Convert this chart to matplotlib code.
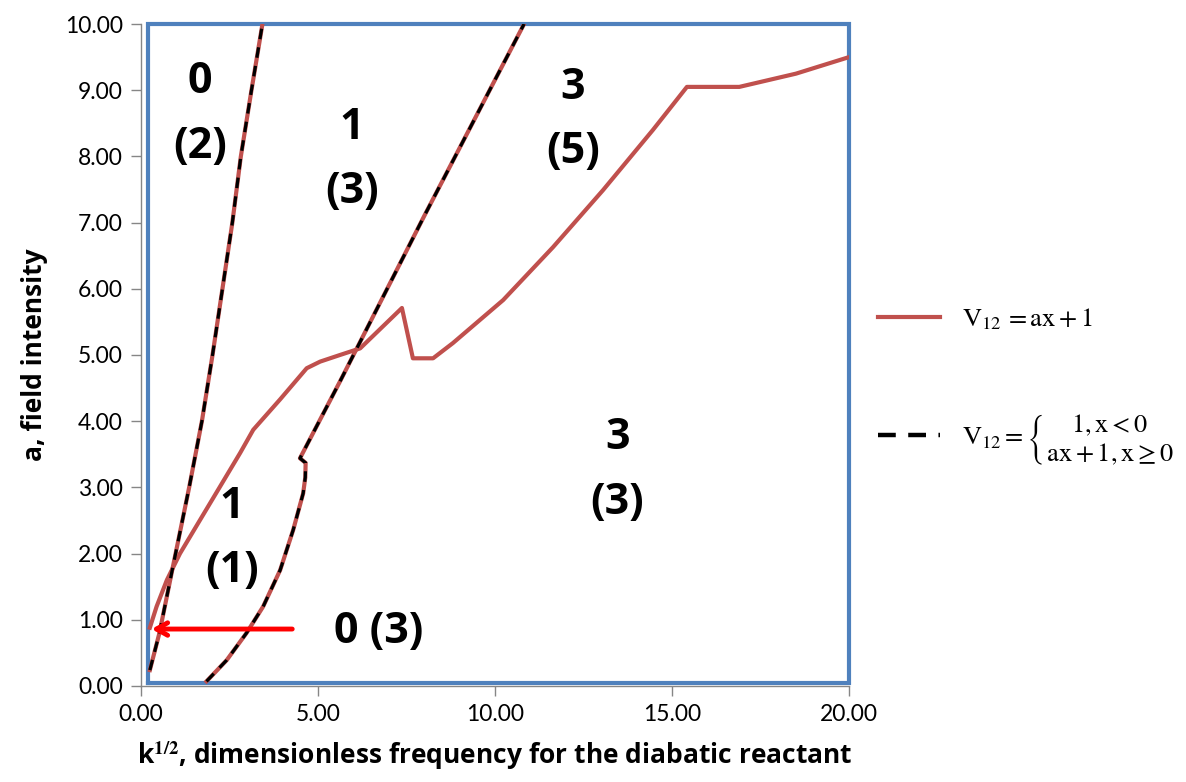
import numpy as np
import matplotlib.pyplot as plt
from matplotlib.lines import Line2D

plt.rcParams['font.family'] = ['Lato', 'DejaVu Sans']
plt.rcParams['mathtext.fontset'] = 'stix'

# V12 = ax + 1 : main boundary curve
main_x = [0.25, 0.44, 0.73, 1.10, 1.67, 2.23, 2.80, 3.17, 3.93, 4.68, 5.06, 5.62, 6.19,
          7.37, 7.68, 8.25, 8.81, 10.23, 11.64, 13.05, 14.46, 15.42, 16.90, 18.5, 20.0]
main_y = [0.88, 1.20, 1.60, 2.00, 2.51, 3.01, 3.52, 3.87, 4.33, 4.80, 4.90, 5.00, 5.10,
          5.71, 4.95, 4.95, 5.18, 5.83, 6.63, 7.49, 8.40, 9.05, 9.05, 9.25, 9.50]

# steep boundary (both couplings agree)
steep_x = [0.25, 0.52, 0.90, 1.36, 1.72, 2.02, 2.30, 2.58, 2.82, 3.12, 3.43]
steep_y = [0.24, 0.80, 1.80, 3.00, 4.00, 5.00, 6.00, 7.00, 8.00, 9.00, 10.00]

# lower boundary with kink, continuing as the straight line to the top
low_x = [1.85, 2.42, 2.98, 3.45, 3.93, 4.30, 4.58, 4.64, 4.65, 4.49, 5.62, 8.00, 10.82]
low_y = [0.07, 0.39, 0.80, 1.20, 1.75, 2.36, 2.91, 3.15, 3.37, 3.44, 4.60, 7.10, 10.00]

# region labels: (x, y, text)
labels = [(1.67, 8.64, '0\n(2)'), (5.96, 7.95, '1\n(3)'), (12.2, 8.56, '3\n(5)'),
          (13.45, 3.26, '3\n(3)'), (2.57, 2.23, '1\n(1)'), (6.7, 0.82, '0 (3)')]

red = '#C0504D'
bold_font = ['Open Sans', 'DejaVu Sans']
fig = plt.figure(figsize=(11.86, 7.82), dpi=100)
ax = fig.add_axes([0.1189, 0.1228, 0.597, 0.8465])

# frame drawn as a series
ax.plot([0.2, 20.0, 20.0, 0.2, 0.2], [0.05, 0.05, 10.0, 10.0, 0.05],
        color='#4F81BD', lw=3, solid_joinstyle='miter', clip_on=False, zorder=1)

for xs, ys in [(main_x, main_y), (steep_x, steep_y), (low_x, low_y)]:
    ax.plot(xs, ys, color=red, lw=3, zorder=3, solid_joinstyle='round')
for xs, ys in [(steep_x, steep_y), (low_x, low_y)]:
    ax.plot(xs, ys, color='black', lw=2.3, dashes=(3.3, 2.6), zorder=4)

ax.annotate('', xy=(0.22, 0.86), xytext=(4.35, 0.86),
            arrowprops=dict(arrowstyle='->, head_length=0.8, head_width=0.45',
                            color='#FF0000', lw=3.5), zorder=5)

for x, y, s in labels:
    ax.text(x, y, s, ha='center', va='center', fontsize=31, fontweight='bold',
            family=bold_font, linespacing=1.65, zorder=6)

ax.set_xlim(0, 20)
ax.set_ylim(0, 10)
ax.set_xticks(np.arange(0, 20.1, 5))
ax.set_yticks(np.arange(0, 10.1, 1))
ax.xaxis.set_major_formatter('{x:.2f}')
ax.yaxis.set_major_formatter('{x:.2f}')
for s in ['top', 'right']:
    ax.spines[s].set_visible(False)
for s in ['left', 'bottom']:
    ax.spines[s].set_color('#868686')
    ax.spines[s].set_linewidth(1)
ax.tick_params(direction='out', length=7, width=1, color='#868686',
               labelsize=16.5, pad=6)
ax.set_xlabel('k$^{\\mathbf{1/2}}$, dimensionless frequency for the diabatic reactant',
              fontsize=19, fontweight='bold', family=bold_font, labelpad=10)
ax.set_ylabel('a, field intensity', fontsize=19, fontweight='bold',
              family=bold_font, labelpad=12)

handles = [Line2D([], [], color=red, lw=3),
           Line2D([], [], color='black', lw=3.2, dashes=(4.0, 2.8))]
names = [r'$\mathrm{V}_{12}\,=\mathrm{ax}+1$',
         r'$\mathrm{V}_{12}=\left\{\genfrac{}{}{0}{0}{1,\mathrm{x}<0}{\mathrm{ax}+1,\mathrm{x}\geq0}\right.$']
fig.legend(handles, names, loc='center left', bbox_to_anchor=(0.720, 0.506),
           frameon=False, fontsize=19, handlelength=2.35, handletextpad=0.85,
           labelspacing=3.05)

fig.savefig('out.png', dpi=100)
